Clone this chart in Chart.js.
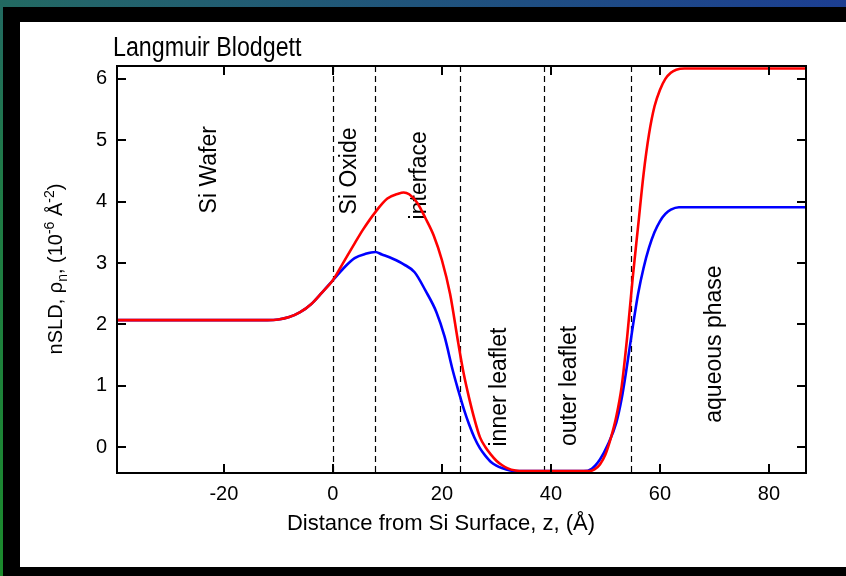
<!DOCTYPE html>
<html>
<head>
<meta charset="utf-8">
<script src="https://cdn.jsdelivr.net/npm/chart.js@4.4.1/dist/chart.umd.min.js"></script>
<style>
  html, body { margin: 0; padding: 0; }
  body {
    width: 846px; height: 576px; overflow: hidden; position: relative;
    background: linear-gradient(to top right, #1b8a2c 0%, #1f7a48 35%, #23646a 55%, #1c3e92 100%);
  }
  #frame { position: absolute; left: 3px; top: 7px; right: 0; bottom: 0; background: #000; }
  #panel { position: absolute; left: 20px; top: 22px; width: 826px; height: 545px; background: #fff; }
  #sld-canvas { position: absolute; left: 0; top: 0; }
</style>
</head>
<body>
<div id="frame"></div>
<div id="panel"></div>
<canvas id="sld-canvas" width="846" height="576"></canvas>
<script>
// nSLD profiles across the Si / oxide / bilayer / water stack

// blue profile
const zBlue = [-39.6, -20, -12, -10, -8, -6, -4, -2, 0, 2, 4, 6, 7.8, 9, 11, 13, 15, 17, 19, 20.5,
  22, 23, 24, 25, 26, 27, 28, 29, 30, 31, 32.5, 34, 46, 47.5, 49, 50.5, 52, 53, 54, 55, 56, 57,
  58, 59, 60, 61, 62, 63.5, 86.8];
const nsldBlue = [2.07, 2.07, 2.07, 2.08, 2.12, 2.20, 2.33, 2.52, 2.72, 2.92, 3.08, 3.15, 3.18, 3.14,
  3.07, 2.98, 2.85, 2.55, 2.20, 1.80, 1.25, 0.93, 0.63, 0.37, 0.15, -0.02, -0.14, -0.24, -0.30,
  -0.34, -0.38, -0.39, -0.39, -0.35, -0.20, 0.05, 0.40, 0.80, 1.35, 1.95, 2.50, 2.92, 3.25, 3.50,
  3.68, 3.80, 3.87, 3.91, 3.91];

// red profile
const zRed = [-39.6, -20, -12, -10, -8, -6, -4, -2, 0, 2, 4, 5.5, 7.8, 10, 12, 13, 14, 15.5, 17,
  18.5, 20, 21.5, 23, 24, 25, 26, 27, 28, 29, 30, 31, 32, 33.5, 35, 47, 48, 49, 50, 51, 52, 53,
  54, 55, 56, 57, 58, 59, 60, 61, 62, 63, 64.5, 86.8];
const nsldRed = [2.07, 2.07, 2.07, 2.08, 2.12, 2.20, 2.33, 2.52, 2.72, 3.02, 3.32, 3.54, 3.83, 4.05,
  4.13, 4.15, 4.12, 3.98, 3.73, 3.45, 3.05, 2.50, 1.70, 1.20, 0.80, 0.45, 0.16, 0.00, -0.12,
  -0.22, -0.29, -0.34, -0.38, -0.39, -0.39, -0.36, -0.28, -0.12, 0.15, 0.50, 1.00, 1.80, 2.75,
  3.60, 4.45, 5.10, 5.55, 5.82, 6.00, 6.10, 6.15, 6.17, 6.17];

const xTickValues = [-20, 0, 20, 40, 60, 80];
const yTickValues = [0, 1, 2, 3, 4, 5, 6];
const boundaries = [0, 7.8, 23.4, 38.7, 54.7];
const regionNames = ['Si Wafer', 'Si Oxide', 'interface', 'inner leaflet', 'outer leaflet', 'aqueous phase'];

const X_MIN = -39.6, X_MAX = 86.8;
const Y_MIN = -0.42, Y_MAX = 6.21;
const FONT = '"Liberation Sans", Arial, Helvetica, sans-serif';

function toPoints(xs, ys) {
  return xs.map((v, i) => ({ x: v, y: ys[i] }));
}

// draws text pieces with sub/superscripts along the current baseline
function drawRich(ctx, parts, size, align) {
  const small = Math.round(size * 0.68);
  const w = parts.map(p => {
    ctx.font = (p.s ? small : size) + 'px ' + FONT;
    return ctx.measureText(p.t).width;
  });
  const total = w.reduce((a, b) => a + b, 0);
  let cx = align === 'center' ? -total / 2 : 0;
  parts.forEach((p, i) => {
    ctx.font = (p.s ? small : size) + 'px ' + FONT;
    const dy = p.s === 'sup' ? -size * 0.42 : p.s === 'sub' ? size * 0.25 : 0;
    ctx.fillText(p.t, cx, dy);
    cx += w[i];
  });
}

const sldDecor = {
  id: 'sldDecor',
  beforeDatasetsDraw(chart, args, opts) {
    const { ctx, chartArea: a, scales: { x, y } } = chart;
    ctx.save();
    // layer boundaries
    ctx.strokeStyle = '#000';
    ctx.lineWidth = 1.2;
    ctx.setLineDash([6, 4]);
    boundaries.forEach(b => {
      const px = Math.round(x.getPixelForValue(b)) + 0.5;
      ctx.beginPath();
      ctx.moveTo(px, a.top);
      ctx.lineTo(px, a.bottom);
      ctx.stroke();
    });
    ctx.setLineDash([]);
    // region names, rotated
    ctx.fillStyle = '#000';
    ctx.font = '23px ' + FONT;
    ctx.textAlign = 'center';
    ctx.textBaseline = 'middle';
    regionNames.forEach((name, i) => {
      const [zx, zy] = opts.anchors[i];
      ctx.save();
      ctx.translate(x.getPixelForValue(zx), y.getPixelForValue(zy));
      ctx.rotate(-Math.PI / 2);
      ctx.fillText(name, 0, 0);
      ctx.restore();
    });
    ctx.restore();
  },
  afterDatasetsDraw(chart) {
    const { ctx, chartArea: a, scales: { x, y } } = chart;
    ctx.save();
    ctx.strokeStyle = '#000';
    ctx.lineWidth = 2;
    ctx.strokeRect(a.left, a.top, a.right - a.left, a.bottom - a.top);
    // inward ticks on all four sides
    const L = 9;
    ctx.beginPath();
    xTickValues.forEach(v => {
      const px = Math.round(x.getPixelForValue(v));
      ctx.moveTo(px, a.bottom); ctx.lineTo(px, a.bottom - L);
      ctx.moveTo(px, a.top); ctx.lineTo(px, a.top + L);
    });
    yTickValues.forEach(v => {
      const py = Math.round(y.getPixelForValue(v));
      ctx.moveTo(a.left, py); ctx.lineTo(a.left + L, py);
      ctx.moveTo(a.right, py); ctx.lineTo(a.right - L, py);
    });
    ctx.stroke();
    ctx.restore();
  },
  afterDraw(chart) {
    const { ctx } = chart;
    ctx.save();
    ctx.fillStyle = '#000';
    ctx.textBaseline = 'alphabetic';
    ctx.textAlign = 'left';
    // title, slightly condensed
    ctx.save();
    ctx.translate(113, 56);
    ctx.scale(0.86, 1);
    ctx.font = '27px ' + FONT;
    ctx.fillText('Langmuir Blodgett', 0, 0);
    ctx.restore();
    // x axis title
    ctx.save();
    ctx.translate(441, 530);
    drawRich(ctx, [{ t: 'Distance from Si Surface, z, (Å)' }], 22, 'center');
    ctx.restore();
    // y axis title
    ctx.save();
    ctx.translate(62, 269);
    ctx.rotate(-Math.PI / 2);
    drawRich(ctx, [
      { t: 'nSLD, ρ' }, { t: 'n', s: 'sub' }, { t: ', (10' }, { t: '-6', s: 'sup' },
      { t: ' Å' }, { t: '-2', s: 'sup' }, { t: ')' }
    ], 20, 'center');
    ctx.restore();
    ctx.restore();
  }
};

new Chart(document.getElementById('sld-canvas'), {
  type: 'line',
  data: {
    datasets: [
      { data: toPoints(zRed, nsldRed), borderColor: '#ff0000', borderWidth: 2.6 },
      { data: toPoints(zBlue, nsldBlue), borderColor: '#0000ff', borderWidth: 2.6 }
    ]
  },
  options: {
    responsive: false,
    animation: false,
    events: [],
    layout: { padding: { left: 0, top: 66, right: 40, bottom: 0 } },
    elements: {
      point: { radius: 0 },
      line: { cubicInterpolationMode: 'monotone', fill: false }
    },
    plugins: {
      legend: { display: false },
      title: { display: false },
      tooltip: { enabled: false },
      sldDecor: {
        anchors: [[-22.6, 4.52], [3.0, 4.5], [16, 4.43], [30.6, 0.98], [43.5, 1.0], [70.1, 1.68]]
      }
    },
    scales: {
      x: {
        type: 'linear', min: X_MIN, max: X_MAX,
        grid: { display: false, drawTicks: false },
        border: { display: false },
        afterBuildTicks: s => { s.ticks = xTickValues.map(v => ({ value: v })); },
        afterFit: s => { s.height = 576 - 473; },
        ticks: { color: '#000', padding: 9, maxRotation: 0, font: { family: FONT, size: 20 } }
      },
      y: {
        type: 'linear', min: Y_MIN, max: Y_MAX,
        grid: { display: false, drawTicks: false },
        border: { display: false },
        afterBuildTicks: s => { s.ticks = yTickValues.map(v => ({ value: v })); },
        afterFit: s => { s.width = 117; },
        ticks: { color: '#000', padding: 10, font: { family: FONT, size: 20 } }
      }
    }
  },
  plugins: [sldDecor]
});
</script>
</body>
</html>
